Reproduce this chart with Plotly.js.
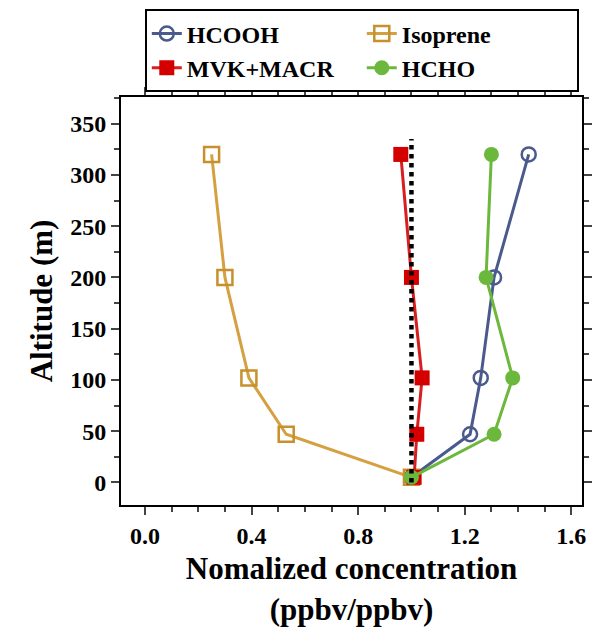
<!DOCTYPE html>
<html>
<head>
<script src="https://cdn.plot.ly/plotly-3.0.1.min.js"></script>
</head>
<body style="margin:0">
<div id="plot" style="width:598px;height:630px"></div>
<script>
var altitude = [5, 47, 102, 200, 320];
var hcooh = [1.00, 1.22, 1.26, 1.31, 1.44];
var isoprene = [1.00, 0.53, 0.39, 0.30, 0.25];
var mvkMacr = [1.01, 1.02, 1.04, 1.00, 0.96];
var hcho = [1.00, 1.31, 1.38, 1.28, 1.30];
var refX = [1, 1];
var refY = [0, 335];

var font = {family: 'Liberation Serif', size: 24, color: '#000'};

var trace1 = {
    type: 'scatter', mode: 'lines+markers', name: '<b>HCOOH</b>',
    x: hcooh, y: altitude,
    line: {color: '#4a5a8c', width: 3},
    marker: {symbol: 'circle-open', size: 14, color: '#4a5a8c', line: {width: 2.5}}
};
var trace2 = {
    type: 'scatter', mode: 'lines+markers', name: '<b>MVK+MACR</b>',
    x: mvkMacr, y: altitude,
    line: {color: '#d81e1e', width: 3},
    marker: {symbol: 'square', size: 15, color: '#d40000'}
};
var trace3 = {
    type: 'scatter', mode: 'lines+markers', name: '<b>Isoprene</b>',
    x: isoprene, y: altitude,
    line: {color: '#d4a040', width: 3},
    marker: {symbol: 'square-open', size: 15, color: '#c8902c', line: {width: 2.5}}
};
var trace4 = {
    type: 'scatter', mode: 'lines+markers', name: '<b>HCHO</b>',
    x: hcho, y: altitude,
    line: {color: '#6cb83c', width: 3},
    marker: {symbol: 'circle', size: 15, color: '#6cb83c'}
};
var trace5 = {
    type: 'scatter', mode: 'lines', showlegend: false,
    x: refX, y: refY,
    line: {color: '#000', width: 4.5, dash: 'dot'}
};

var axisCommon = {
    showgrid: false, zeroline: false, showline: true, mirror: 'allticks',
    linecolor: '#000', linewidth: 2, ticks: 'outside', ticklen: 8, tickwidth: 2
};

var layout = {
    width: 598, height: 630,
    margin: {l: 121, r: 16, t: 97, b: 125},
    font: font,
    paper_bgcolor: '#fff', plot_bgcolor: '#fff',
    showlegend: true,
    legend: {
        orientation: 'h', xref: 'container', x: 0.605, xanchor: 'center',
        yref: 'container', y: 0.985, yanchor: 'top',
        bordercolor: '#000', borderwidth: 2, entrywidth: 170,
        font: {family: 'Liberation Serif', size: 24}, traceorder: 'normal',
        itemwidth: 30
    },
    xaxis: Object.assign({}, axisCommon, {
        range: [-0.09, 1.64], tickvals: [0, 0.4, 0.8, 1.2, 1.6],
        ticktext: ['<b>0.0</b>', '<b>0.4</b>', '<b>0.8</b>', '<b>1.2</b>', '<b>1.6</b>'],
        minor: {ticks: 'outside', ticklen: 5, tickwidth: 1.5, dtick: 0.1},
        title: {text: '<b>Nomalized concentration<br>(ppbv/ppbv)</b>', font: {size: 31}, standoff: 10}
    }),
    yaxis: Object.assign({}, axisCommon, {
        range: [-22, 376], tickvals: [0, 50, 100, 150, 200, 250, 300, 350],
        ticktext: ['<b>0</b>', '<b>50</b>', '<b>100</b>', '<b>150</b>', '<b>200</b>', '<b>250</b>', '<b>300</b>', '<b>350</b>'],
        minor: {ticks: 'outside', ticklen: 5, tickwidth: 1.5, dtick: 25},
        title: {text: '<b>Altitude (m)</b>', font: {size: 31}, standoff: 8}
    })
};

Plotly.newPlot('plot', [trace1, trace3, trace2, trace4, trace5], layout, {displayModeBar: false});
</script>
</body>
</html>
